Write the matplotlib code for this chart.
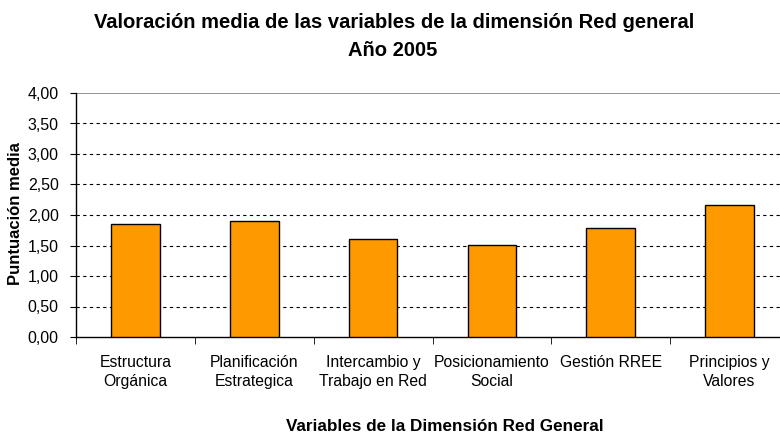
import numpy as np
import matplotlib.pyplot as plt

categories = ["Estructura\nOrgánica", "Planificación\nEstrategica", "Intercambio y\nTrabajo en Red",
              "Posicionamiento\nSocial", "Gestión RREE", "Principios y\nValores"]
values = [1.85, 1.90, 1.61, 1.51, 1.78, 2.17]
yticks = [0.0, 0.5, 1.0, 1.5, 2.0, 2.5, 3.0, 3.5, 4.0]

plt.rcParams["font.family"] = ["Liberation Sans", "DejaVu Sans"]

W, H = 780, 436
fig = plt.figure(figsize=(W / 100, H / 100), dpi=100)
# plot area in pixels: left 76, right 789 (runs past the edge), top 93, bottom 337
ax = fig.add_axes([76 / W, 1 - 337 / H, 713 / W, 244 / H])

x = np.arange(len(categories))
ax.bar(x, values, width=0.41, color="#FF9900", edgecolor="black", linewidth=1, zorder=3)

ax.set_xlim(-0.5, len(categories) - 0.5)
ax.set_ylim(0, 4)
ax.set_yticks(yticks)
ax.set_yticklabels([f"{v:.2f}".replace(".", ",") for v in yticks], fontsize=11.5)
for v in yticks[1:-1]:
    ax.axhline(v, color="black", linestyle=(0, (3, 3)), linewidth=0.8, zorder=1)
ax.axhline(4.0, color="#808080", linewidth=1.2, zorder=1)

ax.set_xticks(x)
ax.set_xticklabels(categories, fontsize=11.3, linespacing=1.35)
ax.tick_params(axis="x", length=0, pad=13)
ax.set_xticks(np.arange(len(categories) + 1) - 0.5, minor=True)
ax.tick_params(axis="x", which="minor", length=5, color="black")
ax.tick_params(axis="y", length=4.5, color="black", pad=8)

for side in ["top", "right"]:
    ax.spines[side].set_visible(False)
for side in ["left", "bottom"]:
    ax.spines[side].set_color("black")
    ax.spines[side].set_linewidth(1)

fig.text(16 / W, 1 - 214 / H, "Puntuación media", rotation=90, ha="center", va="center",
         fontsize=12, fontweight="bold")
fig.text(445 / W, 1 - 431 / H, "Variables de la Dimensión Red General",
         ha="center", va="baseline", fontsize=12.3, fontweight="bold")
fig.text(394 / W, 1 - 23 / H, "Valoración media de las variables de la dimensión Red general",
         ha="center", va="center", fontsize=14.5, fontweight="bold")
fig.text(393 / W, 1 - 50 / H, "Año 2005", ha="center", va="center", fontsize=14.5, fontweight="bold")

fig.savefig("out.png", dpi=100)
